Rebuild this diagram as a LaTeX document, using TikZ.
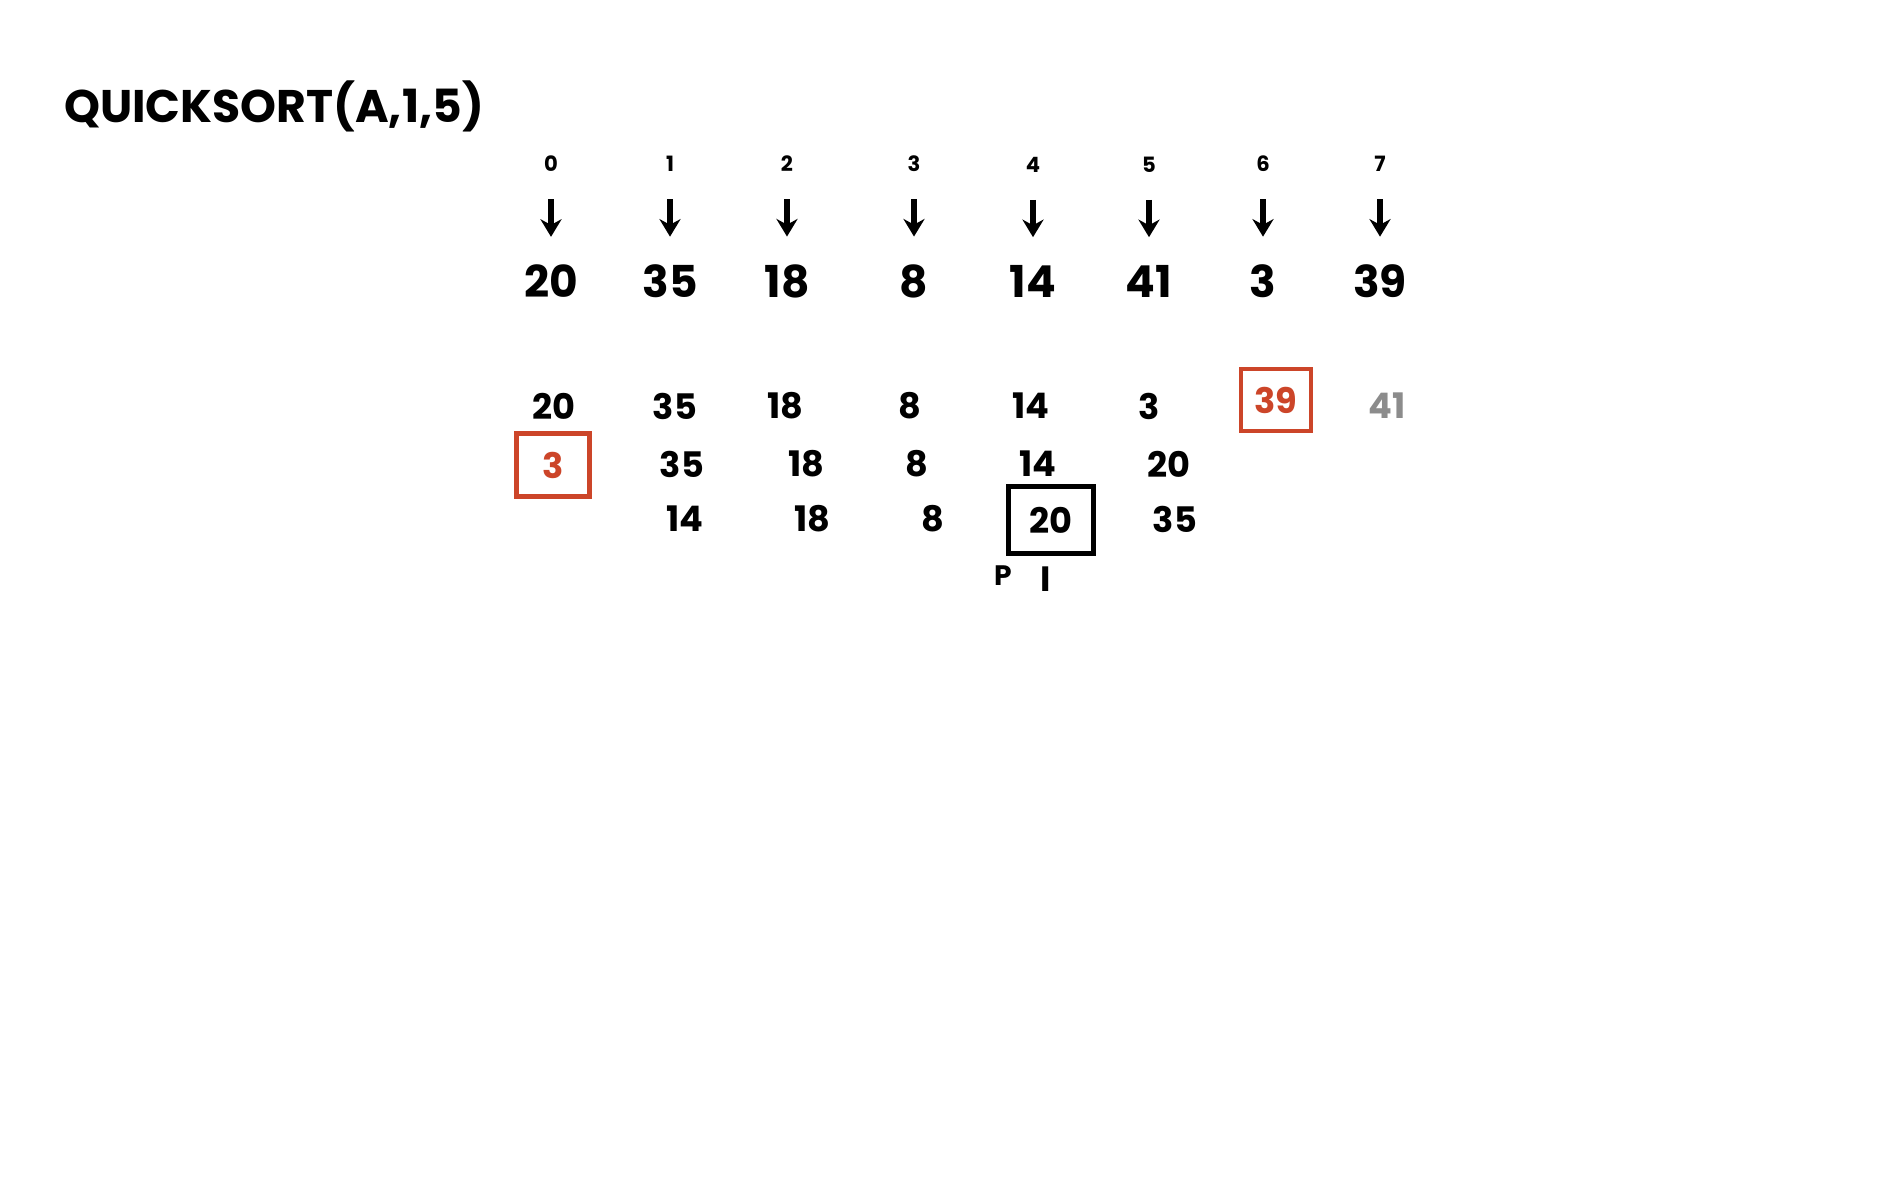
\documentclass[tikz,border=0pt]{standalone}
\usepackage{fontspec}
\setmainfont{Poppins}
\usetikzlibrary{arrows.meta,positioning}
\definecolor{boxred}{rgb}{0.8,0.27,0.16}

\begin{document}
\begin{tikzpicture}[x=0.01cm,y=-0.01cm,node distance=0.76cm,line width=1.8pt]
	  \tikzstyle{idx}=[font=\fontsize{6}{7}\selectfont\bfseries,inner sep=1pt]
	  \tikzstyle{val}=[font=\fontsize{12.5}{14}\selectfont\bfseries,inner sep=2pt]
	  \tikzstyle{cell}=[font=\fontsize{10}{12}\selectfont\bfseries,inner sep=2pt]
	  \tikzstyle{pivot}=[draw=boxred,text=boxred,line width=1.2pt,minimum width=0.7cm,minimum height=0.62cm]
	  \tikzstyle{arr}=[-{Stealth[length=5pt,width=6pt]},shorten <=6pt,shorten >=5pt]

	  \useasboundingbox (0,0) rectangle (1900,1200);

	  \node[font=\fontsize{13}{15}\selectfont\bfseries] (title) at (274,106) {QUICKSORT(A,1,5)};

	  % array and its indices
	  \node[val] (v0) at (551,281) {20};
	  \node[val] (v1) at (670,281) {35};
	  \node[val] (v2) at (787,281) {18};
	  \node[val] (v3) at (914,281) {8};
	  \node[val] (v4) at (1033,281) {14};
	  \node[val] (v5) at (1149,281) {41};
	  \node[val] (v6) at (1263,281) {3};
	  \node[val] (v7) at (1380,281) {39};

	  \node[idx] (i0) [above=of v0] {0};
	  \node[idx] (i1) [above=of v1] {1};
	  \node[idx] (i2) [above=of v2] {2};
	  \node[idx] (i3) [above=of v3] {3};
	  \node[idx] (i4) [above=of v4] {4};
	  \node[idx] (i5) [above=of v5] {5};
	  \node[idx] (i6) [above=of v6] {6};
	  \node[idx] (i7) [above=of v7] {7};

	  \draw[arr] (i0) -- (v0);
	  \draw[arr] (i1) -- (v1);
	  \draw[arr] (i2) -- (v2);
	  \draw[arr] (i3) -- (v3);
	  \draw[arr] (i4) -- (v4);
	  \draw[arr] (i5) -- (v5);
	  \draw[arr] (i6) -- (v6);
	  \draw[arr] (i7) -- (v7);

	  % first partition
	  \node[cell] (a0) at (554,406) {20};
	  \node[cell] (a1) at (675,406) {35};
	  \node[cell] (a2) at (785,406) {18};
	  \node[cell] (a3) at (910,406) {8};
	  \node[cell] (a4) at (1031,406) {14};
	  \node[cell] (a5) at (1149,406) {3};
	  \node[cell,pivot] (a6) at (1276,400) {39};
	  \node[cell,text=black!45] (a7) at (1387,406) {41};

	  \node[cell,pivot,minimum width=0.73cm,minimum height=0.63cm] (b0) at (553,465) {3};
	  \node[cell] (b1) at (682,464) {35};
	  \node[cell] (b2) at (806,464) {18};
	  \node[cell] (b3) at (917,464) {8};
	  \node[cell] (b4) at (1038,464) {14};
	  \node[cell] (b5) at (1169,464) {20};

	  \node[cell] (c1) at (685,519) {14};
	  \node[cell] (c2) at (812,519) {18};
	  \node[cell] (c3) at (933,519) {8};
	  \node[cell,draw,line width=1.4pt,minimum width=0.85cm,minimum height=0.67cm] (c4) at (1051,520) {20};
	  \node[cell] (c5) at (1175,519) {35};

	  \node[font=\fontsize{8}{9}\selectfont\bfseries] (p) at (1003,576) {P};
	  \node[font=\fontsize{10}{11}\selectfont\bfseries] (pi) at (1046,579) {I};
	\end{tikzpicture}
\end{document}
